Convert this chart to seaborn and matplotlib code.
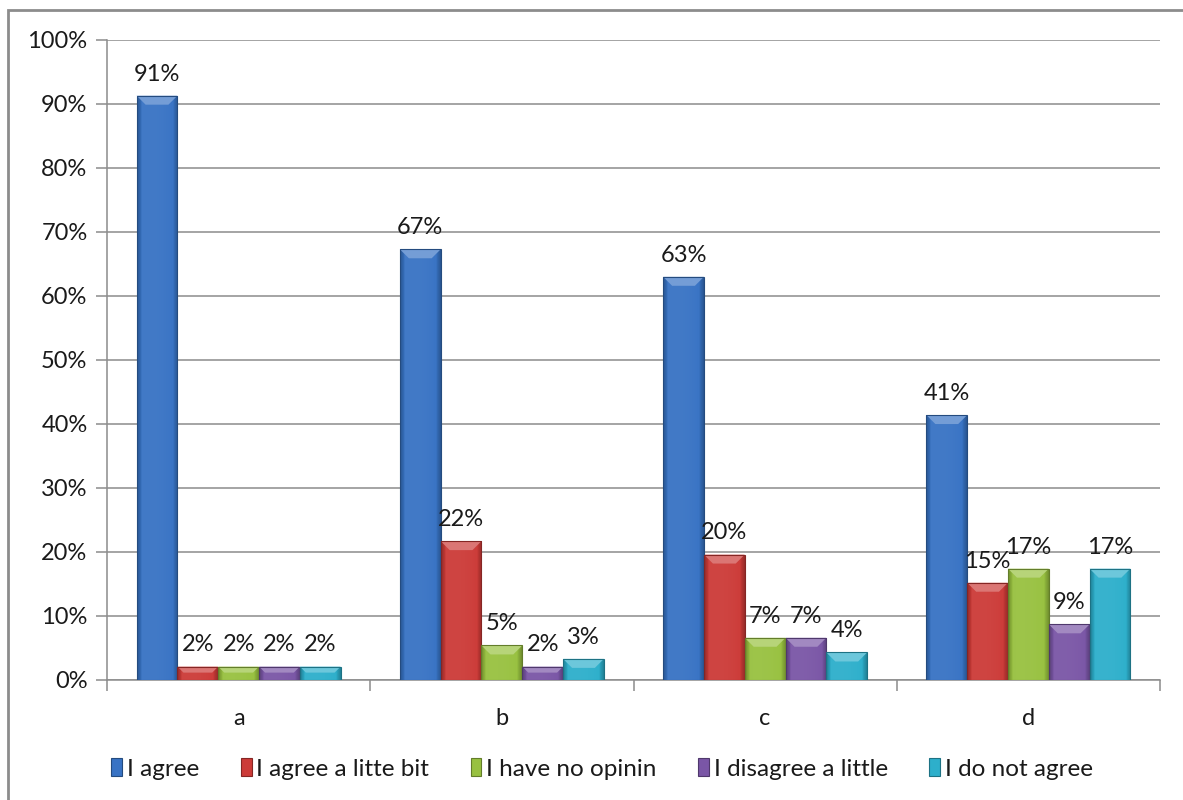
import numpy as np
import pandas as pd
import matplotlib
matplotlib.use("Agg")
import matplotlib.pyplot as plt
import matplotlib.colors as mcolors
from matplotlib.patches import Rectangle, Polygon
from matplotlib.ticker import PercentFormatter, FixedLocator
import seaborn as sns

# Survey results per statement
statements = ["a", "b", "c", "d"]
responses = ["I agree", "I agree a litte bit", "I have no opinin",
             "I disagree a little", "I do not agree"]
agree = [0.913, 0.673, 0.630, 0.414]
agree_bit = [0.021, 0.217, 0.196, 0.152]
no_opinion = [0.021, 0.054, 0.066, 0.174]
disagree_little = [0.021, 0.021, 0.066, 0.087]
not_agree = [0.021, 0.033, 0.043, 0.174]
colors = ["#3873C4", "#CC3B38", "#98C140", "#7A56A6", "#2DAFCB"]

series = [agree, agree_bit, no_opinion, disagree_little, not_agree]
df = pd.DataFrame({
    "statement": np.tile(statements, len(responses)),
    "response": np.repeat(responses, len(statements)),
    "share": np.concatenate(series),
})

sns.set_theme(style="white")
plt.rcParams["font.family"] = ["Lato", "DejaVu Sans"]

W, H = 1183, 800
fig = plt.figure(figsize=(W / 100, H / 100), dpi=100)
ax = fig.add_axes([107 / W, 1 - 680 / H, (1160 - 107) / W, 640 / H])

sns.barplot(data=df, x="statement", y="share", hue="response",
            order=statements, hue_order=responses,
            palette=colors, saturation=1, width=0.775, ax=ax,
            legend=False, linewidth=0, zorder=3)

ax.set_xlim(-0.5, 3.5)
ax.set_ylim(0, 1.0)
ax.yaxis.set_major_locator(FixedLocator(np.arange(0, 1.01, 0.1)))
ax.yaxis.set_major_formatter(PercentFormatter(1.0, decimals=0))
ax.grid(axis="y", color="#8C8C8C", linewidth=1.1, zorder=0)
ax.set_axisbelow(True)
for s in ["top", "right"]:
    ax.spines[s].set_visible(False)
for s in ["left", "bottom"]:
    ax.spines[s].set_color("#8C8C8C")
    ax.spines[s].set_linewidth(1.1)
ax.tick_params(axis="y", which="major", length=8, width=1.1, color="#8C8C8C",
               direction="out", left=True, pad=6, labelsize=17, labelcolor="#1a1a1a")
ax.tick_params(axis="x", which="major", length=0, pad=20, labelsize=17,
               labelcolor="#1a1a1a")
ax.set_xticks([-0.5, 0.5, 1.5, 2.5, 3.5], minor=True)
ax.tick_params(axis="x", which="minor", length=8, width=1.1, color="#8C8C8C",
               direction="out", bottom=True)
ax.set_xlabel("")
ax.set_ylabel("")


def shade(color, f):
    r, g, b = mcolors.to_rgb(color)
    if f >= 0:
        return (r + (1 - r) * f, g + (1 - g) * f, b + (1 - b) * f)
    return (r * (1 + f), g * (1 + f), b * (1 + f))


# Bevelled, gradient-filled bars
xs = np.linspace(0, 1, 64)
profile = np.where(xs < 0.1, -0.25 + xs * 2.0,
                   np.where(xs > 0.9, -0.25 + (1 - xs) * 2.0,
                            0.05 - 0.12 * (xs - 0.3) ** 2))
cap_px = 9
px_per_y = 640.0
px_per_x = (1160 - 107) / 4.0
for container, color, vals in zip(ax.containers, colors, series):
    for bar in container.patches:
        x0, w, h = bar.get_x(), bar.get_width(), bar.get_height()
        img = np.array([[shade(color, p) for p in profile]])
        im = ax.imshow(img, extent=(x0, x0 + w, 0, h), aspect="auto",
                       zorder=3.5, interpolation="bilinear")
        im.set_clip_path(bar)
        cap = min(cap_px / px_per_y, h * 0.45)
        d = min(cap * px_per_y / px_per_x, w * 0.25)
        ax.add_patch(Polygon([(x0, h), (x0 + w, h), (x0 + w - d, h - cap),
                              (x0 + d, h - cap)], closed=True,
                             facecolor=shade(color, 0.3), edgecolor="none",
                             zorder=3.6))
        ax.add_patch(Rectangle((x0, 0), w, h, facecolor="none",
                               edgecolor=shade(color, -0.35), linewidth=0.8,
                               zorder=3.7))
    ax.bar_label(container, labels=[f"{v:.0%}" for v in vals], padding=8,
                 fontsize=17, color="#1a1a1a", zorder=5)

# Legend below the plot
handles = [Rectangle((0, 0), 1, 1, facecolor=c, edgecolor=shade(c, -0.35),
                     linewidth=0.8) for c in colors]
fig.legend(handles, responses, loc="center", bbox_to_anchor=(0.509, 1 - 769 / H),
           ncol=5, frameon=False, fontsize=17.5, handlelength=0.45,
           handleheight=0.7, handletextpad=0.2, columnspacing=1.7,
           labelcolor="#1a1a1a")

# Chart-area border
fig.add_artist(Rectangle((8 / W, -0.05), 1.2, 1 - 10 / H + 0.05,
                         transform=fig.transFigure, facecolor="none",
                         edgecolor="#8C8C8C", linewidth=2.0))

fig.savefig("out.png", dpi=100)
